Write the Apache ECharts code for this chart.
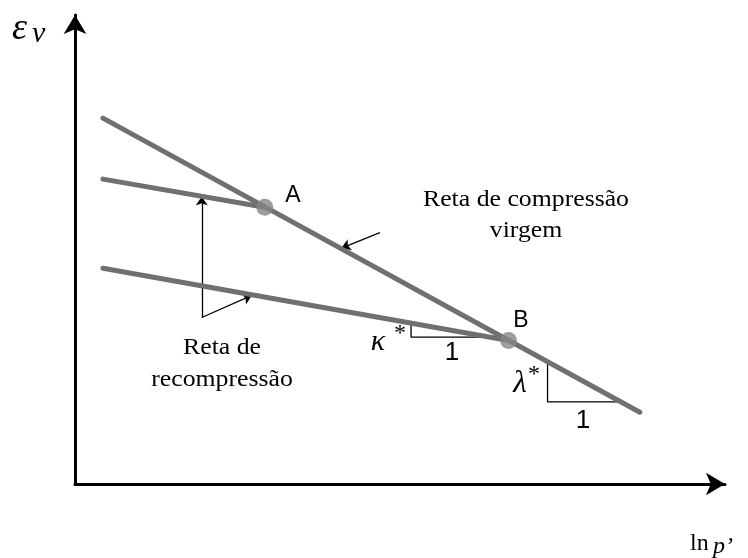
<!DOCTYPE html>
<html>
<head>
<meta charset="utf-8">
<script src="https://cdn.jsdelivr.net/npm/echarts@6/dist/echarts.min.js"></script>
<style>
  html, body { margin: 0; padding: 0; background: #fff; }
  #chart { width: 748px; height: 558px; }
</style>
</head>
<body>
<div id="chart"></div>
<script>
// Schematic e_v – ln p' diagram (arbitrary units, 0–100 on both axes)
const virginLine = [[4.3, 78.0], [86.9, 15.3]];   // reta de compressão virgem
const recompA = [[4.3, 65.0], [29.2, 59.0]];      // recompressão que chega a A
const recompB = [[4.3, 46.0], [66.7, 30.6]];      // recompressão que chega a B
const pointNames = ['A', 'B'];
const points = [[29.2, 59.0], [66.7, 30.6]];
const kappaTriangle = [[51.7, 34.3], [51.7, 31.3], [63.9, 31.3]];
const lambdaTriangle = [[72.7, 26.1], [72.7, 17.5], [83.9, 17.5]];
const pointerArrows = [
  [[19.5, 35.5], [19.5, 61.3]],
  [[19.5, 35.5], [27.2, 40.2]],
  [[46.9, 53.6], [41.0, 50.3]]
];

const chart = echarts.init(document.getElementById('chart'));

const axisCommon = {
  type: 'value',
  min: 0,
  max: 100,
  axisLine: {
    show: true,
    symbol: ['none', 'arrow'],
    symbolSize: [17, 19],
    lineStyle: { color: '#000', width: 3 }
  },
  axisTick: { show: false },
  axisLabel: { show: false },
  splitLine: { show: false }
};

const grayLine = { color: '#707070', width: 5, cap: 'round' };
const thinLine = { color: '#000', width: 1.3 };

function lineSeries(data, style, z) {
  return {
    type: 'line',
    data: data,
    showSymbol: false,
    symbol: 'none',
    lineStyle: style,
    silent: true,
    animation: false,
    z: z
  };
}

const serif = "'Liberation Serif', 'DejaVu Serif', serif";
const sans = "'Liberation Sans', 'DejaVu Sans', sans-serif";

function label(text, x, y, font, align) {
  return {
    type: 'text',
    style: {
      text: text, x: x, y: y, font: font, fill: '#000',
      textAlign: align || 'center', textVerticalAlign: 'middle'
    }
  };
}

function wideLabel(text, x, y) {
  return {
    type: 'text', x: x, y: y, scaleX: 1.12,
    style: {
      text: text, x: 0, y: 0, font: '23px ' + serif, fill: '#000',
      textAlign: 'center', textVerticalAlign: 'middle'
    }
  };
}

chart.setOption({
  animation: false,
  backgroundColor: '#fff',
  grid: { left: 75, right: 23, top: 15, bottom: 74 },
  xAxis: axisCommon,
  yAxis: axisCommon,
  series: [
    lineSeries(virginLine, grayLine, 3),
    lineSeries(recompA, grayLine, 3),
    lineSeries(recompB, grayLine, 3),
    lineSeries(kappaTriangle, thinLine, 2),
    lineSeries(lambdaTriangle, thinLine, 2),
    {
      type: 'lines',
      coordinateSystem: 'cartesian2d',
      data: pointerArrows.map(c => ({ coords: c })),
      symbol: ['none', 'arrow'],
      symbolSize: 9,
      lineStyle: { color: '#000', width: 1.3, opacity: 1 },
      silent: true,
      z: 2
    },
    {
      type: 'scatter',
      data: points.map((p, i) => ({ name: pointNames[i], value: p })),
      symbol: 'circle',
      symbolSize: 17,
      itemStyle: { color: '#858585' },
      silent: true,
      z: 5
    }
  ],
  graphic: [
    label('ε', 12, 29, 'italic 38px ' + serif, 'left'),
    label('ν', 32, 34, 'italic 30px ' + serif, 'left'),
    label('ln', 690, 544, '24px ' + serif, 'left'),
    label('p’', 713, 547, 'italic 24px ' + serif, 'left'),
    label('A', 293, 196, '23px ' + sans),
    label('B', 521, 321, '23px ' + sans),
    wideLabel('Reta de compressão', 526, 200),
    wideLabel('virgem', 526, 231),
    wideLabel('Reta de', 222, 348),
    wideLabel('recompressão', 222, 380),
    label('κ', 378, 342, 'italic 30px ' + serif),
    label('*', 400, 334, '24px ' + serif),
    label('λ', 520, 384, 'italic 31px ' + serif),
    label('*', 534, 375, '24px ' + serif),
    label('1', 452, 353, '26px ' + sans),
    label('1', 583, 421, '26px ' + sans)
  ]
});
</script>
</body>
</html>
